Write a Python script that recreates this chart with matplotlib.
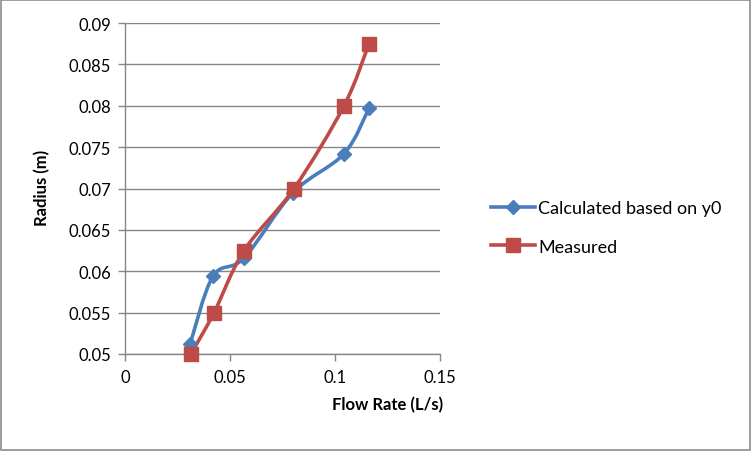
import matplotlib
matplotlib.use("Agg")
import matplotlib.pyplot as plt
from matplotlib.path import Path
from matplotlib.patches import PathPatch
from matplotlib.lines import Line2D
import numpy as np

plt.rcParams['font.family'] = ['Lato', 'DejaVu Sans']

calc_x = [0.031, 0.0419, 0.0567, 0.080, 0.1043, 0.1162]
calc_y = [0.0512, 0.0594, 0.0616, 0.0695, 0.0742, 0.0797]
meas_x = [0.0314, 0.0424, 0.0567, 0.0805, 0.1043, 0.1162]
meas_y = [0.0500, 0.0550, 0.0625, 0.0700, 0.0800, 0.0875]
series_names = ["Calculated based on y0", "Measured"]
x_ticks = [0, 0.05, 0.1, 0.15]
x_labels = ["0", "0.05", "0.1", "0.15"]
y_ticks = [0.05, 0.055, 0.06, 0.065, 0.07, 0.075, 0.08, 0.085, 0.09]
y_labels = ["0.05", "0.055", "0.06", "0.065", "0.07", "0.075", "0.08", "0.085", "0.09"]

BLUE = "#4A7EBB"
RED = "#BE4B48"

fig = plt.figure(figsize=(7.52, 4.52), dpi=100)
fig.patch.set_facecolor("white")
# outer border
fig.add_artist(plt.Rectangle((0.001, 0.002), 0.997, 0.995, transform=fig.transFigure,
                             fill=False, edgecolor="#8C8C8C", linewidth=1.2))

ax = fig.add_axes([125/752, (452-355)/452, (440-125)/752, (355-24)/452])
ax.set_xlim(0, 0.15)
ax.set_ylim(0.05, 0.09)


def smooth_path(xs, ys, ax):
    # Excel-like smoothed line drawn with cubic Bezier in display space
    pts = ax.transData.transform(np.column_stack([xs, ys]))
    n = len(pts)
    verts = [pts[0]]
    codes = [Path.MOVETO]
    for i in range(n - 1):
        p0 = pts[i - 1] if i > 0 else pts[i]
        p1 = pts[i]
        p2 = pts[i + 1]
        p3 = pts[i + 2] if i + 2 < n else pts[i + 1]
        c1 = p1 + (p2 - p0) / 6.0
        c2 = p2 - (p3 - p1) / 6.0
        verts += [c1, c2, p2]
        codes += [Path.CURVE4] * 3
    return Path(verts, codes)


for xs, ys, col, mk, ms in [(calc_x, calc_y, BLUE, "D", 7.5), (meas_x, meas_y, RED, "s", 10)]:
    pth = smooth_path(xs, ys, ax)
    patch = PathPatch(pth, transform=None, facecolor="none", edgecolor=col,
                      linewidth=2.6, capstyle="round", joinstyle="round", zorder=3)
    ax.add_artist(patch)
    ax.plot(xs, ys, linestyle="none", marker=mk, markersize=ms, color=col,
            markeredgecolor=col, zorder=4, clip_on=False)

ax.set_xticks(x_ticks)
ax.set_xticklabels(x_labels)
ax.set_yticks(y_ticks)
ax.set_yticklabels(y_labels)
ax.yaxis.grid(True, color="#868686", linewidth=1)
ax.set_axisbelow(True)
for s in ["top", "right"]:
    ax.spines[s].set_visible(False)
for s in ["left", "bottom"]:
    ax.spines[s].set_color("#868686")
    ax.spines[s].set_linewidth(1)
ax.tick_params(axis="both", colors="#868686", labelcolor="black", labelsize=12,
               direction="out", length=5, width=1)
ax.tick_params(axis="x", pad=6)
ax.tick_params(axis="y", pad=5)

ax.set_xlabel("Flow Rate (L/s)", fontsize=12, fontweight="bold")
ax.xaxis.set_label_coords((388 - 125) / (440 - 125), -(397 - 355) / (355 - 24))
ax.set_ylabel("Radius (m)", fontsize=12, fontweight="bold")
ax.yaxis.set_label_coords(-(125 - 50) / (440 - 125), (355 - 188) / (355 - 24))

handles = [Line2D([0], [0], color=BLUE, lw=2.6, marker="D", markersize=7.5),
           Line2D([0], [0], color=RED, lw=2.6, marker="s", markersize=10)]
fig.legend(handles, series_names, loc="upper left", bbox_to_anchor=(484/752, 1 - 194/452),
           frameon=False, fontsize=13, handlelength=2.4, handletextpad=0.2,
           labelspacing=1.25, borderaxespad=0)

fig.savefig("out.png", dpi=100)
